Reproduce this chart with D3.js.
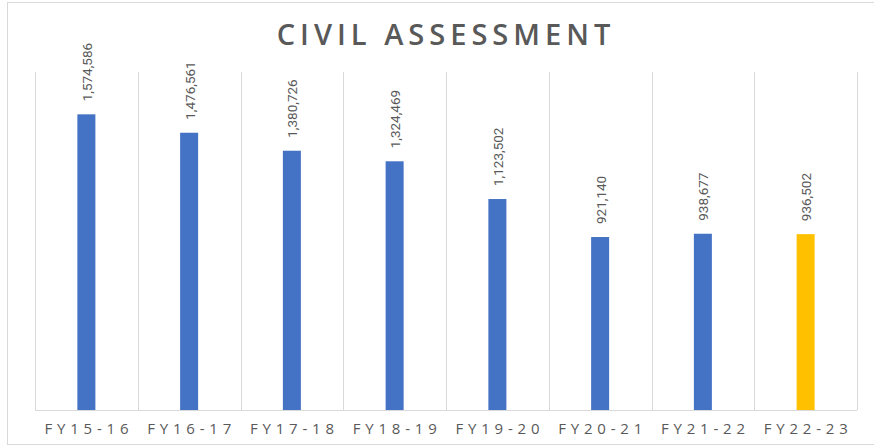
<!DOCTYPE html>
<html>
<head>
<meta charset="utf-8">
<script src="https://cdn.jsdelivr.net/npm/d3@7"></script>
<style>
  html, body { margin: 0; padding: 0; background: #fff; }
  svg { display: block; }
</style>
</head>
<body>
<svg id="chart" width="874" height="448"></svg>
<script>
// Civil assessment totals by fiscal year
const categories = ["FY15-16", "FY16-17", "FY17-18", "FY18-19", "FY19-20", "FY20-21", "FY21-22", "FY22-23"];
const values = [1574586, 1476561, 1380726, 1324469, 1123502, 921140, 938677, 936502];
const highlighted = ["FY22-23"];
const chartTitle = "CIVIL ASSESSMENT";

const svg = d3.select("#chart");
const W = 874, H = 448;
const plot = { left: 35, right: 857, top: 72, bottom: 410 };
const textGray = "#595959";
const gridGray = "#d9d9d9";

// outer frame
svg.append("rect")
  .attr("x", 7.5).attr("y", 2.5)
  .attr("width", W - 7).attr("height", 442)
  .attr("fill", "#fff").attr("stroke", gridGray).attr("stroke-width", 1);

const x = d3.scaleBand().domain(categories).range([plot.left, plot.right]).paddingInner(0).paddingOuter(0);
const y = d3.scaleLinear().domain([0, 1800000]).range([plot.bottom, plot.top]);

// category separators
const edges = categories.map(c => x(c)).concat([plot.right]);
svg.append("g").selectAll("line").data(edges).join("line")
  .attr("x1", d => Math.round(d) + 0.5).attr("x2", d => Math.round(d) + 0.5)
  .attr("y1", plot.top).attr("y2", plot.bottom)
  .attr("stroke", gridGray).attr("stroke-width", 1);

// baseline
svg.append("line")
  .attr("x1", plot.left).attr("x2", plot.right)
  .attr("y1", plot.bottom + 0.5).attr("y2", plot.bottom + 0.5)
  .attr("stroke", gridGray).attr("stroke-width", 1);

// bars
const barW = 18;
const data = categories.map((c, i) => ({ c, v: values[i] }));
svg.append("g").selectAll("rect").data(data).join("rect")
  .attr("x", d => x(d.c) + x.bandwidth() / 2 - barW / 2)
  .attr("y", d => y(d.v))
  .attr("width", barW)
  .attr("height", d => y(0) - y(d.v))
  .attr("fill", d => highlighted.includes(d.c) ? "#FFC000" : "#4472C4");

// value labels, rotated
const fmt = d3.format(",");
svg.append("g").selectAll("text").data(data).join("text")
  .attr("transform", d => `translate(${x(d.c) + x.bandwidth() / 2 + 5.5},${y(d.v) - 13}) rotate(-90)`)
  .attr("text-anchor", "start")
  .attr("font-family", "Roboto, 'Liberation Sans', sans-serif")
  .attr("font-size", 13.5)
  .attr("fill", textGray)
  .text(d => fmt(d.v));

// category axis labels
const xAxis = d3.axisBottom(x).tickSize(0).tickPadding(0);
const gx = svg.append("g").attr("transform", `translate(0,${plot.bottom})`).call(xAxis);
gx.select(".domain").remove();
gx.selectAll("text")
  .attr("y", 23.5)
  .attr("dy", 0)
  .attr("dx", 2.5)
  .attr("font-family", "'Open Sans', sans-serif")
  .attr("font-size", 15)
  .attr("letter-spacing", "4.8px")
  .attr("fill", textGray);

// title
svg.append("text")
  .attr("x", 446).attr("y", 45)
  .attr("text-anchor", "middle")
  .attr("font-family", "'Open Sans', sans-serif")
  .attr("font-weight", 600)
  .attr("font-size", 29)
  .attr("letter-spacing", "5px")
  .attr("fill", textGray)
  .text(chartTitle);
</script>
</body>
</html>
